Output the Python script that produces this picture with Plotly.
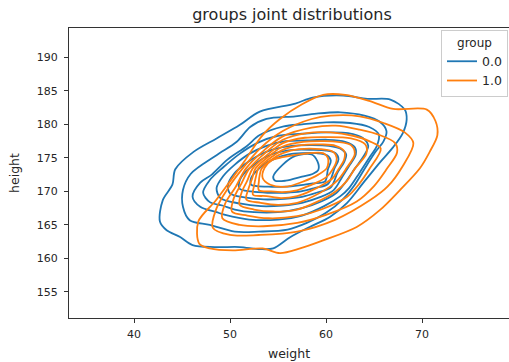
import plotly.graph_objects as go

# ---------------- data (weight, height) contour lines ----------------
groups = ["0.0", "1.0"]
colors = ["#1f77b4", "#ff7f0e"]

g0_level1 = [(42.7,165.5),(43.0,168.7),(44.0,171.0),(44.3,173.3),(46.2,175.9),(48.6,177.9),(51.0,179.9),(53.1,181.9),(56.8,183.1),(58.6,184.0),(61.8,184.3),(64.3,183.8),(66.7,183.7),(68.2,182.2),(68.4,180.7),(68.0,178.7),(67.0,176.6),(65.6,174.3),(63.9,171.3),(62.2,168.3),(60.4,166.2),(58.3,164.7),(56.3,163.2),(54.5,161.5),(53.1,161.4),(51.0,161.7),(48.4,161.7),(46.1,162.0),(44.8,163.2),(43.4,164.2)]
g0_level2 = [(45.1,167.7),(45.1,170.2),(45.9,172.6),(48.6,175.4),(50.7,177.4),(52.1,179.6),(53.8,180.8),(56.8,181.2),(59.0,181.6),(61.5,181.8),(64.0,181.3),(65.6,180.4),(66.3,179.0),(66.0,177.5),(65.1,175.8),(64.2,173.8),(63.0,171.0),(61.8,168.9),(60.0,166.8),(58.0,165.3),(56.0,164.3),(53.0,164.0),(50.5,164.0),(47.9,165.0),(45.8,165.7)]
g0_level3 = [(46.1,169.2),(46.9,171.3),(48.1,172.5),(49.7,174.7),(51.7,176.7),(53.1,178.4),(55.6,179.7),(57.5,180.0),(60.0,180.3),(62.5,180.2),(64.5,179.6),(65.5,178.5),(65.3,176.8),(64.5,175.0),(63.5,172.8),(62.4,170.5),(61.5,169.3),(59.8,167.8),(57.5,166.4),(55.0,165.8),(52.0,165.8),(49.5,166.5),(48.6,166.9),(46.9,167.7)]
g0_level4 = [(47.2,169.8),(47.9,171.7),(49.3,173.6),(51.0,175.6),(52.8,177.2),(55.0,178.3),(57.5,178.6),(60.0,178.8),(62.3,178.7),(63.8,178.0),(64.4,176.8),(63.9,175.2),(63.0,173.4),(62.0,171.3),(61.1,169.8),(59.5,168.5),(57.5,167.5),(55.0,166.9),(52.5,166.9),(50.5,167.3),(49.2,167.9),(47.9,168.4)]
g0_level5 = [(48.6,170.5),(49.3,172.3),(50.5,174.0),(52.0,175.6),(53.8,176.8),(55.8,177.5),(58.0,177.6),(60.2,177.7),(62.0,177.4),(63.0,176.6),(63.1,175.5),(62.5,174.0),(61.7,172.2),(60.8,170.2),(59.3,169.1),(57.5,168.3),(55.5,167.9),(53.2,167.8),(51.0,168.2),(49.0,169.0)]
g0_level6 = [(49.8,171.0),(50.4,172.6),(51.5,174.0),(53.0,175.4),(54.6,176.3),(56.4,176.8),(58.3,176.9),(60.3,176.8),(61.6,176.3),(62.1,175.5),(61.9,174.4),(61.2,172.8),(60.5,170.6),(59.0,169.8),(57.5,169.2),(55.7,168.9),(53.5,168.8),(51.5,169.1),(50.0,169.7)]
g0_level7 = [(51.0,171.6),(51.6,172.9),(52.6,174.1),(53.8,175.2),(55.2,175.9),(56.8,176.2),(58.5,176.2),(60.0,176.1),(61.0,175.7),(61.3,174.8),(60.9,173.5),(60.2,171.1),(58.8,170.5),(57.4,170.0),(55.8,169.8),(53.9,169.8),(52.2,170.0),(51.0,170.4)]
g0_level8 = [(52.2,172.0),(52.8,173.1),(53.6,174.1),(54.7,174.9),(56.0,175.5),(57.5,175.7),(59.0,175.7),(60.1,175.4),(60.5,174.6),(60.2,173.3),(59.9,171.5),(58.6,171.2),(57.2,170.9),(55.7,170.7),(54.0,170.7),(52.2,171.0)]
g0_level9 = [(55.5,174.0),(56.8,175.3),(58.5,175.5),(59.1,174.5),(59.2,173.2),(58.6,172.6),(57.5,172.2),(55.8,171.6),(54.7,171.6),(54.5,172.2)]

g1_level1 = [(46.7,165.5),(48.5,168.6),(50.0,171.5),(51.5,174.5),(53.4,178.4),(55.2,180.8),(57.5,183.0),(59.7,184.4),(62.0,184.4),(64.5,183.5),(67.0,182.3),(70.5,182.2),(71.4,180.5),(71.6,178.4),(70.8,175.9),(69.8,173.5),(67.7,170.2),(65.6,167.2),(63.2,164.7),(59.7,162.7),(57.3,161.5),(55.2,160.8),(53.4,161.5),(50.3,161.2),(47.9,161.5),(46.8,162.2)]
g1_level2 = [(48.6,167.5),(49.8,170.5),(51.3,173.4),(53.2,176.5),(55.5,179.0),(58.5,180.8),(60.5,181.3),(63.5,181.2),(66.0,180.2),(68.2,178.8),(69.1,177.2),(68.0,173.8),(66.4,170.7),(64.6,168.7),(61.0,165.8),(57.0,164.0),(53.0,163.5),(50.0,163.5),(48.2,164.6)]
g1_level3 = [(49.5,168.2),(50.6,170.7),(51.65,173.4),(53.6,176.2),(55.5,178.2),(58.5,179.5),(61.0,179.8),(63.5,179.2),(65.6,178.4),(67.2,177.2),(67.4,175.8),(66.3,173.3),(65.0,170.8),(63.2,168.5),(60.0,166.5),(57.0,165.3),(53.5,164.8),(51.0,165.0),(49.2,166.0)]
g1_level4 = [(50.4,169.0),(51.2,171.2),(52.0,173.4),(53.8,175.9),(55.5,177.7),(58.0,178.7),(60.5,178.8),(62.8,178.3),(64.5,177.5),(65.7,176.4),(64.5,173.3),(63.5,171.2),(62.2,169.2),(59.5,167.3),(57.0,166.3),(54.0,166.0),(51.8,166.4),(50.2,167.0)]
g1_level5 = [(51.2,169.8),(51.8,171.6),(52.35,173.4),(54.0,175.6),(55.5,177.2),(57.8,178.0),(60.0,178.1),(62.6,177.9),(64.1,177.0),(64.2,175.6),(63.0,173.4),(62.2,171.6),(61.0,170.0),(59.0,168.4),(57.0,167.3),(54.5,167.0),(52.5,167.3),(51.0,168.0)]
g1_level6 = [(51.9,170.3),(52.3,171.9),(52.65,173.4),(54.2,175.4),(55.5,176.7),(57.6,177.4),(59.8,177.5),(61.2,177.4),(62.6,176.9),(63.0,175.6),(62.1,173.4),(61.3,171.8),(60.3,170.6),(58.6,169.2),(57.0,168.3),(55.0,168.0),(53.2,168.3),(51.7,168.8)]
g1_level7 = [(52.5,170.8),(52.7,172.2),(52.95,173.4),(54.4,175.2),(55.5,176.2),(57.4,176.9),(59.6,177.0),(61.0,176.8),(61.9,176.0),(61.9,174.8),(61.3,173.3),(60.7,172.0),(59.8,171.1),(58.3,170.0),(57.0,169.3),(55.3,169.0),(53.8,169.3),(52.4,169.5)]
g1_level8 = [(53.0,171.4),(53.1,172.5),(53.3,173.4),(54.5,174.9),(55.5,175.7),(57.2,176.3),(59.5,176.3),(60.6,176.0),(61.0,175.5),(61.1,174.6),(60.7,173.3),(60.1,172.2),(59.3,171.5),(58.0,170.7),(56.8,170.1),(55.5,169.9),(54.2,170.0),(53.0,170.2)]
g1_level9 = [(53.6,173.5),(54.4,174.7),(55.5,175.1),(57.6,175.6),(59.7,175.7),(60.2,175.0),(60.1,173.5),(59.2,172.5),(57.5,171.4),(55.9,170.7),(54.2,171.0),(53.4,172.0)]

group_levels = [
    [g0_level1, g0_level2, g0_level3, g0_level4, g0_level5, g0_level6, g0_level7, g0_level8, g0_level9],
    [g1_level1, g1_level2, g1_level3, g1_level4, g1_level5, g1_level6, g1_level7, g1_level8, g1_level9],
]

x_ticks = [40, 50, 60, 70]
y_ticks = [155, 160, 165, 170, 175, 180, 185, 190]

# ---------------- figure ----------------
fig = go.Figure()
for gi, levels in enumerate(group_levels):
    for li, pts in enumerate(levels):
        closed = pts + [pts[0]]
        fig.add_trace(go.Scatter(
            x=[p[0] for p in closed], y=[p[1] for p in closed],
            mode="lines",
            line=dict(color=colors[gi], width=1.8, shape="spline", smoothing=0.9),
            name=groups[gi], legendgroup=groups[gi], showlegend=(li == 0),
            hoverinfo="skip",
        ))

axis_font = dict(family="DejaVu Sans", size=11, color="#262626")
fig.update_layout(
    width=509, height=362,
    margin=dict(l=69, r=0, t=28, b=44, pad=0, autoexpand=False),
    paper_bgcolor="white", plot_bgcolor="white",
    font=dict(family="DejaVu Sans", color="#262626"),
    title=dict(text="groups joint distributions", x=292/509, xanchor="center",
               y=1 - 14/362, yanchor="middle",
               font=dict(family="DejaVu Sans", size=16, color="#262626")),
    xaxis=dict(range=[33.23, 79.06], tickvals=x_ticks, ticks="outside", ticklen=4,
               tickcolor="#333", tickfont=axis_font, showgrid=False, zeroline=False,
               showline=True, linecolor="#333", linewidth=1.2, mirror=True,
               ticklabelstandoff=2,
               title=dict(text="weight", font=dict(family="DejaVu Sans", size=12.5, color="#262626"), standoff=8)),
    yaxis=dict(range=[151.12, 194.37], tickvals=y_ticks, ticks="outside", ticklen=4,
               tickcolor="#333", tickfont=axis_font, showgrid=False, zeroline=False,
               showline=True, linecolor="#333", linewidth=1.2,
               ticklabelstandoff=4,
               title=dict(text="height", font=dict(family="DejaVu Sans", size=12.5, color="#262626"), standoff=14)),
    legend=dict(x=(441-69)/440, y=0.993, xanchor="left", yanchor="top",
                bgcolor="rgba(255,255,255,0.8)", bordercolor="#cccccc", borderwidth=1,
                font=dict(family="DejaVu Sans", size=12.5, color="#262626"),
                title=dict(text="group", side="top center",
                           font=dict(family="DejaVu Sans", size=12, color="#262626")),
                itemwidth=30, tracegroupgap=0),
)
fig.write_html("out.html", config={"displayModeBar": False},
               post_script="document.body.style.margin='0';document.body.style.overflow='hidden';")
